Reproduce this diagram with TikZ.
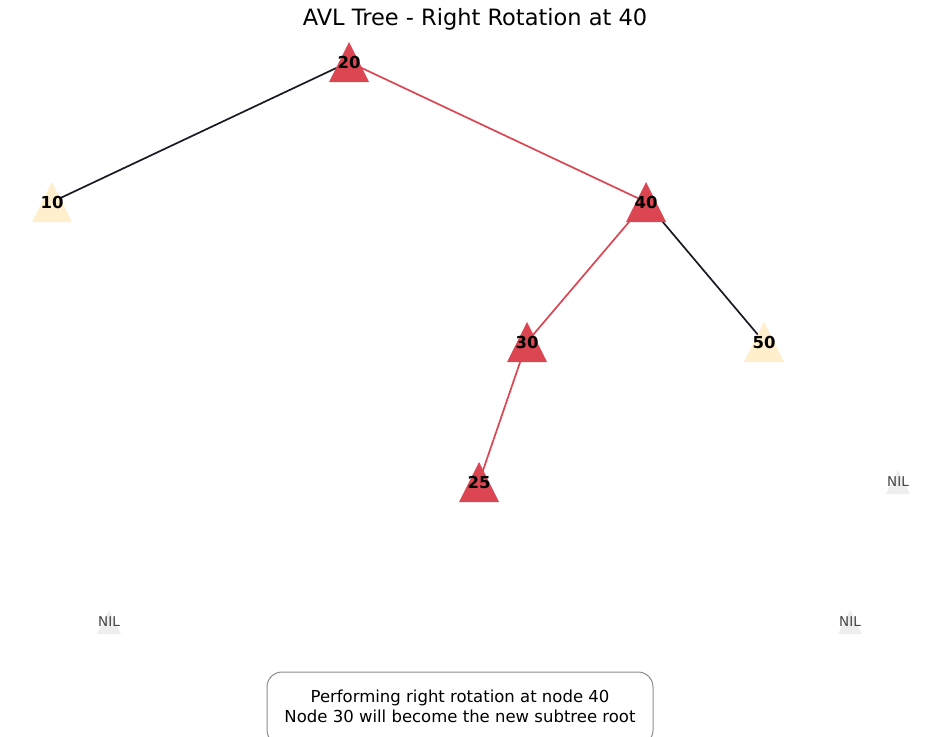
\documentclass[tikz,border=0pt]{standalone}
\usepackage{fontspec}
\setmainfont{DejaVu Sans}
\definecolor{cred}{RGB}{220,70,82}
\definecolor{cyel}{RGB}{255,239,204}
\definecolor{cdark}{RGB}{26,26,36}
\definecolor{cnil}{RGB}{238,238,238}
\definecolor{cniltxt}{RGB}{68,68,68}
\definecolor{cbox}{RGB}{140,140,140}
\tikzset{
  tri/.pic={\fill[pic actions] (0,-20) -- (-20,20) -- (20,20) -- cycle;},
  niltri/.pic={\fill[pic actions] (0,-12) -- (-12,12) -- (12,12) -- cycle;},
  redge/.style={draw=cred, line width=1.7pt},
  dedge/.style={draw=cdark, line width=1.7pt},
  numlbl/.style={font=\fontsize{16.5}{19}\selectfont\bfseries, text=black, inner sep=0pt},
  nillbl/.style={font=\fontsize{13.5}{16}\selectfont, text=cniltxt, inner sep=0pt},
}
\begin{document}
\begin{tikzpicture}[x=1pt,y=-1pt]
\useasboundingbox (0,0) rectangle (950,736);
\clip (0,0) rectangle (950,736);
% positions
\coordinate (c20) at (349,62);
\coordinate (c10) at (52,202);
\coordinate (c40) at (646,202);
\coordinate (c30) at (527,342);
\coordinate (c50) at (764,342);
\coordinate (c25) at (479,482);
\coordinate (cnA) at (898,482);
\coordinate (cnB) at (109,622);
\coordinate (cnC) at (850,622);
% edges
\draw[dedge] (c20) -- (c10);
\draw[redge] (c20) -- (c40);
\draw[redge] (c40) -- (c30);
\draw[dedge] (c40) -- (c50);
\draw[redge] (c30) -- (c25);
% triangles
\pic[fill=cred] at (c20) {tri};
\pic[fill=cyel] at (c10) {tri};
\pic[fill=cred] at (c40) {tri};
\pic[fill=cred] at (c30) {tri};
\pic[fill=cyel] at (c50) {tri};
\pic[fill=cred] at (c25) {tri};
\pic[fill=cnil] at (cnA) {niltri};
\pic[fill=cnil] at (cnB) {niltri};
\pic[fill=cnil] at (cnC) {niltri};
% labels
\node[numlbl] (n20) at (c20) {20};
\node[numlbl] (n10) at (c10) {10};
\node[numlbl] (n40) at (c40) {40};
\node[numlbl] (n30) at (c30) {30};
\node[numlbl] (n50) at (c50) {50};
\node[numlbl] (n25) at (c25) {25};
\node[nillbl] (nilA) at (cnA) {NIL};
\node[nillbl] (nilB) at (cnB) {NIL};
\node[nillbl] (nilC) at (cnC) {NIL};
% title
\node[font=\fontsize{22.5}{26}\selectfont, inner sep=0pt] (title) at (475,19) {AVL Tree - Right Rotation at 40};
% info box
\draw[cbox, line width=1pt, fill=white, rounded corners=15pt] (267,672) rectangle (653,745);
\node[font=\fontsize{16.5}{20}\selectfont, align=center, inner sep=0pt] (info) at (460,706) {Performing right rotation at node 40\\Node 30 will become the new subtree root};
\end{tikzpicture}
\end{document}
